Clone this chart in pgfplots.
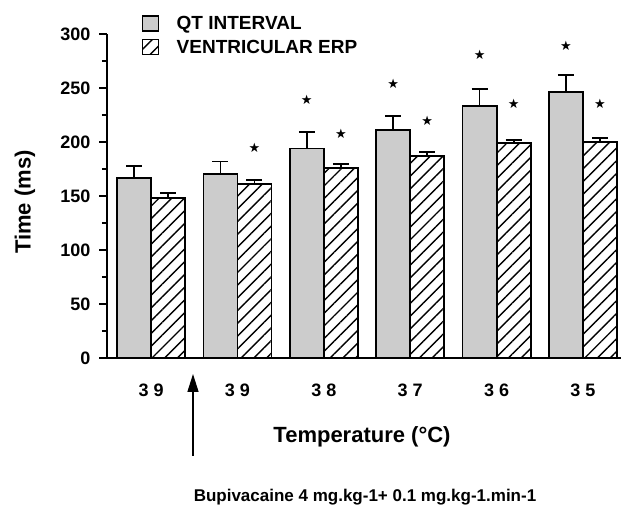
\documentclass[border=0pt]{standalone}
\usepackage{pgfplots}
\pgfplotsset{compat=1.18}
\usepackage{fontspec}
\setmainfont{Liberation Sans}
\newfontfamily\dejavu{DejaVu Sans}
\usetikzlibrary{patterns.meta,arrows.meta}

% QT bars are at x-0.197, ERP bars at x+0.197 (group x = 0..5)
\pgfplotstableread{
xq      qt   qterr  xe      erp  erperr
-0.197  167  11     0.197   148  5
0.803   170  12     1.197   161  4
1.803   194  15     2.197   176  3.5
2.803   211  13     3.197   187  3.5
3.803   233  16     4.197   199  3
4.803   246  16     5.197   200  4
}\datatable

\pgfplotstableread{
x       y
1.197   195
1.803   239
2.197   208
2.803   254
3.197   220
3.803   281
4.197   235
4.803   289
5.197   235
}\startable

\begin{document}
\begin{tikzpicture}[x=1pt,y=1pt]
\begin{axis}[
  at={(0,0)}, anchor=south west,
  scale only axis, width=514pt, height=324pt,
  axis lines*=left,
  axis line style={line width=1.6pt},
  xmin=-0.51, xmax=5.44,
  ymin=0, ymax=300,
  ytick={0,50,...,300},
  minor ytick={25,75,...,275},
  xtick={0,1,2,3,4,5},
  xticklabels={{3 9},{3 9},{3 8},{3 7},{3 6},{3 5}},
  major x tick style={draw=none},
  tick align=outside,
  major tick length=8pt,
  minor tick length=5pt,
  every tick/.style={line width=1.4pt, black},
  tick label style={font=\fontsize{18}{20}\selectfont\bfseries},
  /pgf/number format/assume math mode=true,
  xticklabel style={yshift=-14pt},
  yticklabel style={xshift=-5pt},
  clip=false,
  legend style={draw=none, fill=none, at={(0.068,1.062)}, anchor=north west,
    inner xsep=0pt, inner ysep=0pt, row sep=5pt,
    font=\fontsize{19}{20}\selectfont\bfseries},
  legend cell align=left,
  legend image code/.code={\draw[#1, line width=1.3pt] (0pt,-7.5pt) rectangle (16pt,7.5pt); \path (31pt,0pt);},
]
\addplot[ybar, bar width=0.394, bar shift=0, fill=black!20, draw=black, line width=1.8pt,
  error bars/.cd, y dir=plus, y explicit,
  error bar style={line width=1.8pt, black},
  error mark options={rotate=90, mark size=8pt, line width=1.8pt}]
  table[x=xq, y=qt, y error=qterr] {\datatable};
\addlegendentry{QT INTERVAL}
\addplot[ybar, bar width=0.394, bar shift=0, fill=white, draw=black, line width=1.8pt,
  postaction={pattern={Lines[angle=45, distance=9pt, line width=1.4pt]}},
  error bars/.cd, y dir=plus, y explicit,
  error bar style={line width=1.8pt, black},
  error mark options={rotate=90, mark size=8pt, line width=1.8pt}]
  table[x=xe, y=erp, y error=erperr] {\datatable};
\addlegendentry{VENTRICULAR ERP}
\addplot[only marks, mark=text, text mark={\dejavu\fontsize{13}{13}\selectfont ★}, forget plot]
  table[x=x, y=y] {\startable};
\end{axis}
\draw[-{Triangle[length=18pt,width=11pt]}, line width=1.5pt] (86,-98) -- (86,-16);
\node[font=\fontsize{22}{24}\selectfont\bfseries] at (255,-79) {Temperature (°C)};
\node[font=\fontsize{17}{19}\selectfont\bfseries] at (258,-139) {Bupivacaine 4 mg.kg-1+ 0.1 mg.kg-1.min-1};
\node[rotate=90, font=\fontsize{22}{24}\selectfont\bfseries] at (-82,156) {Time (ms)};
\pgfresetboundingbox
\path[use as bounding box] (-107,-152) rectangle (514,358);
\end{tikzpicture}
\end{document}
